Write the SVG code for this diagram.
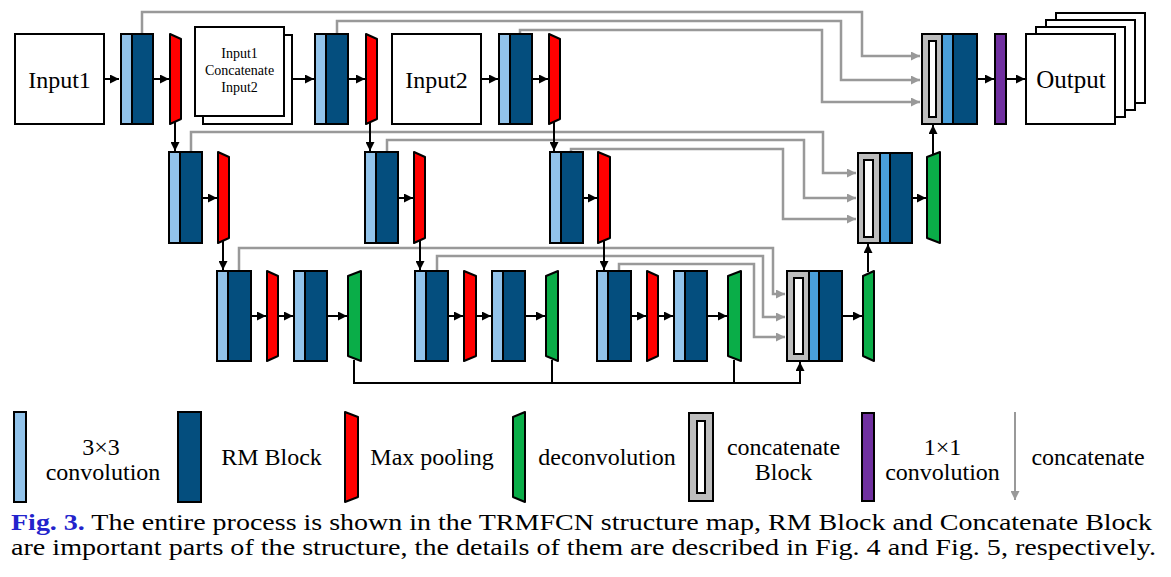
<svg xmlns="http://www.w3.org/2000/svg" width="1171" height="577" viewBox="0 0 1171 577">
<defs>
<style>
.bx{fill:#fff;stroke:#000;stroke-width:2}
.lb{fill:#92c3ea;stroke:#000;stroke-width:2}
.db{fill:#044e7e;stroke:#000;stroke-width:2}
.cb{fill:#4a9fda;stroke:#000;stroke-width:2}
.rd{fill:#ff0000;stroke:#000;stroke-width:2;stroke-linejoin:round}
.gr{fill:#0aad48;stroke:#000;stroke-width:2;stroke-linejoin:round}
.cg{fill:#bdbdbd;stroke:#000;stroke-width:2}
.cw{fill:#fff;stroke:#000;stroke-width:2}
.pu{fill:#7030a0;stroke:#000;stroke-width:2}
.ka{fill:none;stroke:#000;stroke-width:2;marker-end:url(#ak)}
.kl{fill:none;stroke:#000;stroke-width:2}
.ga{fill:none;stroke:#999;stroke-width:2.5;marker-end:url(#ag)}
text{font-family:"Liberation Serif","Times New Roman",serif;fill:#000}
.t24{font-size:24px}
.t14{font-size:14px}
.lg{font-size:24px;text-anchor:middle}
</style>
<marker id="ak" markerUnits="userSpaceOnUse" markerWidth="10" markerHeight="9" refX="9" refY="4.5" orient="auto"><path d="M0,0 L9,4.5 L0,9 z" fill="#000"/></marker>
<marker id="ag" markerUnits="userSpaceOnUse" markerWidth="10" markerHeight="9" refX="9" refY="4.5" orient="auto"><path d="M0,0 L9,4.5 L0,9 z" fill="#999"/></marker>
</defs>
<rect width="1171" height="577" fill="#fff"/>

<g id="connectors">
<path class="ga" d="M142,34 V12 H862 V56 H920"/>
<path class="ga" d="M337,34 V21 H841 V80 H920"/>
<path class="ga" d="M520,34 V30 H822 V102 H920"/>
<path class="ga" d="M191,152 V132 H823 V173 H856"/>
<path class="ga" d="M387,152 V140 H804 V198 H856"/>
<path class="ga" d="M571,152 V149 H783 V219 H856"/>
<path class="ga" d="M239,271 V248 H773 V294 H785"/>
<path class="ga" d="M437,271 V256 H763 V317 H785"/>
<path class="ga" d="M619,271 V264 H754 V337 H785"/>
<path class="ka" d="M104,79 H119"/>
<path class="ka" d="M153,79 H169"/>
<path class="ka" d="M292,79 H314"/>
<path class="ka" d="M348,79 H365"/>
<path class="ka" d="M481,79 H498"/>
<path class="ka" d="M532,79 H548"/>
<path class="ka" d="M977,79 H994"/>
<path class="ka" d="M1006,79 H1025"/>
<path class="ka" d="M202,198 H217"/>
<path class="ka" d="M398,198 H413"/>
<path class="ka" d="M583,198 H597"/>
<path class="ka" d="M912,198 H926"/>
<path class="ka" d="M251,316 H266"/>
<path class="ka" d="M278,316 H293"/>
<path class="ka" d="M327,316 H347"/>
<path class="ka" d="M448,316 H463"/>
<path class="ka" d="M476,316 H491"/>
<path class="ka" d="M525,316 H545"/>
<path class="ka" d="M631,316 H646"/>
<path class="ka" d="M658,316 H673"/>
<path class="ka" d="M707,316 H727"/>
<path class="ka" d="M842,316 H862"/>
<path class="ka" d="M175,122 V151"/>
<path class="ka" d="M370,122 V151"/>
<path class="ka" d="M554,122 V151"/>
<path class="ka" d="M223,241 V270"/>
<path class="ka" d="M420,241 V270"/>
<path class="ka" d="M604,241 V270"/>
<path class="ka" d="M933,154 V125"/>
<path class="ka" d="M868,272 V244"/>
<path class="ka" d="M354,360 V383 H800 V362"/>
<path class="kl" d="M552,360 V383"/>
<path class="kl" d="M734,360 V383"/>
</g>

<g id="input1"><rect class="bx" x="15" y="34" width="89" height="90"/><text class="t24" x="59.5" y="88" text-anchor="middle">Input1</text></g>
<g id="top-block1"><rect class="db" x="121" y="34" width="32" height="90"/><rect class="lb" x="121" y="34" width="11" height="90"/></g>
<g id="top-pool1"><polygon class="rd" points="170,34 181,39 181,119 170,124"/></g>
<g id="input-concat"><rect class="bx" x="203" y="35" width="89" height="89"/><rect class="bx" x="195" y="27" width="89" height="89"/>
<text class="t14" x="239.5" text-anchor="middle"><tspan x="239.5" y="58">Input1</tspan><tspan x="239.5" y="75">Concatenate</tspan><tspan x="239.5" y="92">Input2</tspan></text></g>
<g id="top-block2"><rect class="db" x="315" y="34" width="33" height="90"/><rect class="lb" x="315" y="34" width="11" height="90"/></g>
<g id="top-pool2"><polygon class="rd" points="366,34 377,39 377,119 366,124"/></g>
<g id="input2"><rect class="bx" x="392" y="34" width="89" height="90"/><text class="t24" x="436.5" y="88" text-anchor="middle">Input2</text></g>
<g id="top-block3"><rect class="db" x="499" y="34" width="33" height="90"/><rect class="lb" x="499" y="34" width="11" height="90"/></g>
<g id="top-pool3"><polygon class="rd" points="549,34 560,39 560,119 549,124"/></g>
<g id="top-concat"><rect class="db" x="922" y="34" width="55" height="90"/><rect class="cb" x="942" y="34" width="11" height="90"/><rect class="cg" x="922" y="34" width="20" height="90"/><rect class="cw" x="929" y="41" width="7" height="76"/></g>
<g id="conv1x1"><rect class="pu" x="995" y="34" width="11" height="90"/></g>
<g id="output"><rect class="bx" x="1056" y="13" width="89" height="90"/><rect class="bx" x="1046" y="20" width="89" height="90"/><rect class="bx" x="1036" y="27" width="89" height="90"/><rect class="bx" x="1026" y="34" width="89" height="90"/><text class="t24" x="1071" y="88" text-anchor="middle" style="font-size:25px">Output</text></g>

<g id="mid-block1"><rect class="db" x="169" y="152" width="33" height="91"/><rect class="lb" x="169" y="152" width="11" height="91"/></g>
<g id="mid-pool1"><polygon class="rd" points="218,152 229,157 229,238 218,243"/></g>
<g id="mid-block2"><rect class="db" x="365" y="152" width="33" height="91"/><rect class="lb" x="365" y="152" width="11" height="91"/></g>
<g id="mid-pool2"><polygon class="rd" points="414,152 425,157 425,238 414,243"/></g>
<g id="mid-block3"><rect class="db" x="550" y="152" width="33" height="91"/><rect class="lb" x="550" y="152" width="11" height="91"/></g>
<g id="mid-pool3"><polygon class="rd" points="598,152 610,157 610,238 598,243"/></g>
<g id="mid-concat"><rect class="db" x="858" y="153" width="54" height="90"/><rect class="cb" x="880" y="153" width="10" height="90"/><rect class="cg" x="858" y="153" width="22" height="90"/><rect class="cw" x="864" y="160" width="9" height="77"/></g>
<g id="mid-deconv"><polygon class="gr" points="927,157 940,152 940,243 927,238"/></g>

<g id="bot-block1a"><rect class="db" x="217" y="271" width="34" height="90"/><rect class="lb" x="217" y="271" width="11" height="90"/></g>
<g id="bot-pool1"><polygon class="rd" points="267,271 278,276 278,356 267,361"/></g>
<g id="bot-block1b"><rect class="db" x="294" y="271" width="33" height="90"/><rect class="lb" x="294" y="271" width="11" height="90"/></g>
<g id="bot-deconv1"><polygon class="gr" points="348,276 361,271 361,361 348,356"/></g>
<g id="bot-block2a"><rect class="db" x="415" y="271" width="33" height="90"/><rect class="lb" x="415" y="271" width="11" height="90"/></g>
<g id="bot-pool2"><polygon class="rd" points="464,271 476,276 476,356 464,361"/></g>
<g id="bot-block2b"><rect class="db" x="492" y="271" width="33" height="90"/><rect class="lb" x="492" y="271" width="11" height="90"/></g>
<g id="bot-deconv2"><polygon class="gr" points="546,276 558,271 558,361 546,356"/></g>
<g id="bot-block3a"><rect class="db" x="597" y="271" width="34" height="90"/><rect class="lb" x="597" y="271" width="11" height="90"/></g>
<g id="bot-pool3"><polygon class="rd" points="647,271 658,276 658,356 647,361"/></g>
<g id="bot-block3b"><rect class="db" x="674" y="271" width="33" height="90"/><rect class="lb" x="674" y="271" width="11" height="90"/></g>
<g id="bot-deconv3"><polygon class="gr" points="728,276 741,271 741,361 728,356"/></g>
<g id="bot-concat"><rect class="db" x="787" y="271" width="55" height="90"/><rect class="cb" x="809" y="271" width="10" height="90"/><rect class="cg" x="787" y="271" width="22" height="90"/><rect class="cw" x="794" y="278" width="9" height="76"/></g>
<g id="bot-deconv4"><polygon class="gr" points="863,276 874,271 874,361 863,356"/></g>

<g id="legend">
<rect class="lb" x="14" y="412" width="12" height="90"/>
<text class="lg"><tspan x="101" y="455">3×3</tspan><tspan x="103" y="480">convolution</tspan></text>
<rect class="db" x="178" y="412" width="23" height="90"/>
<text class="lg" x="271.5" y="465">RM Block</text>
<polygon class="rd" points="345,412 358,417 358,497 345,502"/>
<text class="lg" x="432" y="465">Max pooling</text>
<polygon class="gr" points="513,417 525,412 525,502 513,497"/>
<text class="lg" x="607" y="465">deconvolution</text>
<rect class="cg" x="689" y="413" width="24" height="88"/><rect class="cw" x="697" y="421" width="8" height="72"/>
<text class="lg"><tspan x="783.5" y="455">concatenate</tspan><tspan x="783.5" y="480">Block</tspan></text>
<rect class="pu" x="862" y="413" width="12" height="88"/>
<text class="lg"><tspan x="942.5" y="455">1×1</tspan><tspan x="942.5" y="480">convolution</tspan></text>
<path class="ga" d="M1015,412 V500" style="stroke-width:2"/>
<text class="lg" x="1088" y="465">concatenate</text>
</g>

<g id="caption">
<text class="t24" x="11" y="530" textLength="1141" lengthAdjust="spacingAndGlyphs"><tspan font-weight="bold" fill="#2323cc">Fig. 3.</tspan> The entire process is shown in the TRMFCN structure map, RM Block and Concatenate Block</text>
<text class="t24" x="11" y="555" textLength="1145" lengthAdjust="spacingAndGlyphs">are important parts of the structure, the details of them are described in Fig. 4 and Fig. 5, respectively.</text>
</g>
</svg>
